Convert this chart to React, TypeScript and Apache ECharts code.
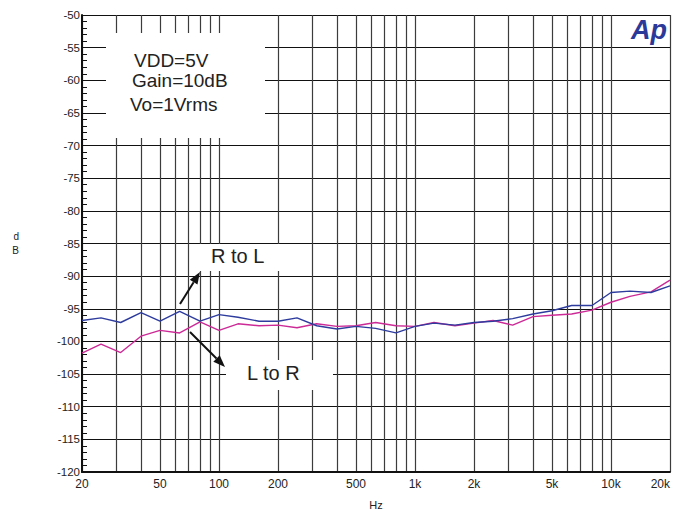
import React, { useEffect, useRef } from "react";
import * as echarts from "echarts";

const freqs = [20, 25, 31.5, 40, 50, 63, 80, 100, 125, 160, 200, 250, 315, 400, 500, 630, 800, 1000, 1250, 1600, 2000, 2500, 3150, 4000, 5000, 6300, 8000, 10000, 12500, 16000, 20000];
const rToL = [-96.8, -96.4, -97.1, -95.6, -96.9, -95.4, -96.9, -95.9, -96.3, -96.9, -96.9, -96.4, -97.6, -98.1, -97.7, -98.0, -98.7, -97.7, -97.2, -97.5, -97.1, -96.9, -96.5, -95.8, -95.3, -94.5, -94.5, -92.5, -92.3, -92.5, -91.5];
const lToR = [-101.8, -100.4, -101.7, -99.2, -98.3, -98.7, -97.0, -98.3, -97.3, -97.6, -97.5, -97.9, -97.3, -97.7, -97.6, -97.1, -97.6, -97.7, -97.1, -97.6, -97.2, -96.8, -97.5, -96.2, -96.0, -95.8, -95.2, -94.0, -93.1, -92.4, -90.6];
const gridFreqs = [20, 30, 40, 50, 60, 70, 80, 90, 100, 200, 300, 400, 500, 600, 700, 800, 900, 1000, 2000, 3000, 4000, 5000, 6000, 7000, 8000, 9000, 10000, 20000];
const labelFreqs = [20, 50, 100, 200, 500, 1000, 2000, 5000, 10000, 20000];
const labelTexts = ["20", "50", "100", "200", "500", "1k", "2k", "5k", "10k", "20k"];
const yMin = -120;
const yMax = -50;
const yStep = 5;

const FONT = "'Liberation Sans', Arial, sans-serif";

export default function App() {
  const ref = useRef<HTMLDivElement>(null);
  useEffect(() => {
    if (!ref.current) return;
    const chart = echarts.init(ref.current, null, { renderer: "svg", width: 683, height: 510 });
    const lg = (f: number) => Math.log10(f);
    const arrow = (x0: number, y0: number, x1: number, y1: number) => {
      const dx = x1 - x0, dy = y1 - y0;
      const len = Math.sqrt(dx * dx + dy * dy);
      const ux = dx / len, uy = dy / len;
      const hl = 12, hw = 4.5;
      const bx = x1 - ux * hl, by = y1 - uy * hl;
      const px = -uy * hw, py = ux * hw;
      return [
        { type: "line", z: 3, shape: { x1: x0, y1: y0, x2: bx, y2: by }, style: { stroke: "#111", lineWidth: 2 } },
        { type: "polygon", z: 3, shape: { points: [[x1, y1], [bx + px, by + py], [bx - px, by - py]] }, style: { fill: "#111" } },
      ];
    };
    const textStyle = (text: string, x: number, y: number, size: number) => ({
      type: "text", z: 3, x, y,
      style: { text, fill: "#222", font: `${size}px ${FONT}`, textAlign: "left", textVerticalAlign: "middle" },
    });
    chart.setOption({
      animation: false,
      backgroundColor: "#fff",
      grid: { left: 82, right: 13, top: 15, bottom: 38, containLabel: false, outerBoundsMode: "none" },
      xAxis: {
        type: "value",
        min: lg(20),
        max: lg(20000),
        name: "Hz",
        nameLocation: "middle",
        nameGap: 27,
        nameTextStyle: { fontFamily: FONT, fontSize: 11, color: "#222" },
        axisLine: { show: true, onZero: false, lineStyle: { color: "#111", width: 2 } },
        axisTick: { show: false, customValues: gridFreqs.map(lg) },
        axisLabel: {
          customValues: labelFreqs.map(lg),
          fontFamily: FONT, fontSize: 12, color: "#222", margin: 6,
          alignMaxLabel: "right",
          formatter: (v: number) => {
            let best = 0;
            labelFreqs.forEach((f, i) => { if (Math.abs(lg(f) - v) < Math.abs(lg(labelFreqs[best]) - v)) best = i; });
            return labelTexts[best];
          },
        },
        splitLine: { show: true, lineStyle: { color: "#3c3c3c", width: 1.2 } },
      },
      yAxis: {
        type: "value",
        min: yMin,
        max: yMax,
        interval: yStep,
        name: "d\nB",
        nameLocation: "middle",
        nameRotate: 0,
        nameGap: 63,
        nameTextStyle: { fontFamily: FONT, fontSize: 10, color: "#222", lineHeight: 14 },
        axisLine: { show: true, lineStyle: { color: "#111", width: 2 } },
        axisTick: { show: true, inside: true, length: 5, lineStyle: { color: "#111" } },
        minorTick: { show: true, splitNumber: 5, length: 5, lineStyle: { color: "#111" } },
        axisLabel: { fontFamily: FONT, fontSize: 11.5, color: "#222", margin: 2 },
        splitLine: { show: true, lineStyle: { color: "#111", width: 1 } },
      },
      series: [
        {
          name: "R to L",
          type: "line",
          z: 5,
          data: freqs.map((f, i) => [lg(f), rToL[i]]),
          showSymbol: false,
          lineStyle: { color: "#2e3c9e", width: 1.4 },
          itemStyle: { color: "#2e3c9e" },
        },
        {
          name: "L to R",
          type: "line",
          z: 4,
          data: freqs.map((f, i) => [lg(f), lToR[i]]),
          showSymbol: false,
          lineStyle: { color: "#cc2a96", width: 1.4 },
          itemStyle: { color: "#cc2a96" },
        },
      ],
      graphic: [
        { type: "rect", z: 1, shape: { x: 106, y: 33, width: 159, height: 105 }, style: { fill: "#fff" } },
        { type: "rect", z: 1, shape: { x: 190, y: 244, width: 108, height: 27 }, style: { fill: "#fff" } },
        { type: "rect", z: 1, shape: { x: 226, y: 360, width: 107, height: 30 }, style: { fill: "#fff" } },
        textStyle("VDD=5V", 134, 60, 19),
        textStyle("Gain=10dB", 132, 80, 19),
        textStyle("Vo=1Vrms", 130, 104, 19),
        textStyle("R to L", 211, 256, 20),
        textStyle("L to R", 247, 373, 20),
        ...arrow(180, 304, 200, 272),
        ...arrow(190, 332, 225, 367),
        {
          type: "text", z: 3, x: 631, y: 16,
          style: { text: "Ap", fill: "#2b3a98", font: `italic 900 27px ${FONT}`, textAlign: "left", textVerticalAlign: "top" },
        },
      ],
    });
    return () => chart.dispose();
  }, []);
  return <div ref={ref} style={{ position: "fixed", left: 0, top: 0, width: 683, height: 510, background: "#fff" }} />;
}
